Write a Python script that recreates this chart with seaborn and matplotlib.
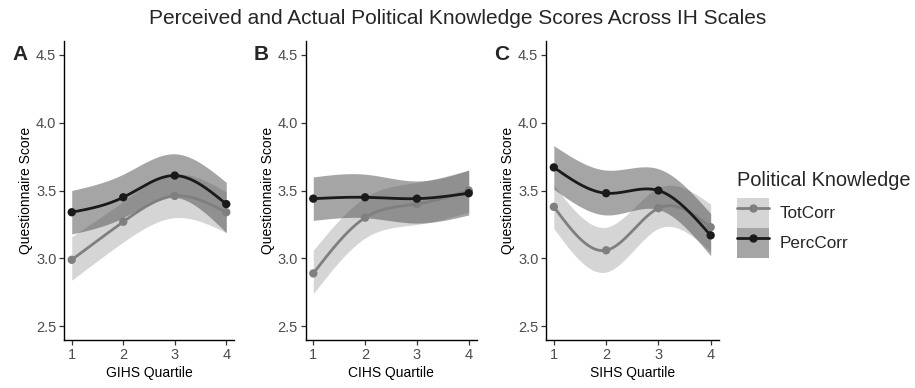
import numpy as np
import pandas as pd
import seaborn as sns
import matplotlib
matplotlib.use("Agg")
import matplotlib.pyplot as plt
from matplotlib.patches import Patch
from matplotlib.lines import Line2D

# ---- data -----------------------------------------------------------------
quartiles = [1, 2, 3, 4]
panel_letters = ["A", "B", "C"]
scale_labels = ["GIHS Quartile", "CIHS Quartile", "SIHS Quartile"]
series_names = ["TotCorr", "PercCorr"]

# mean scores per quartile (TotCorr / PercCorr) for each scale
tot_mean = {
    "GIHS": [2.99, 3.27, 3.46, 3.34],
    "CIHS": [2.89, 3.30, 3.40, 3.50],
    "SIHS": [3.38, 3.06, 3.37, 3.23],
}
perc_mean = {
    "GIHS": [3.34, 3.45, 3.61, 3.40],
    "CIHS": [3.44, 3.45, 3.44, 3.48],
    "SIHS": [3.67, 3.48, 3.50, 3.17],
}
# confidence band limits
tot_lo = {
    "GIHS": [2.84, 3.12, 3.30, 3.19],
    "CIHS": [2.74, 3.15, 3.25, 3.34],
    "SIHS": [3.22, 2.90, 3.22, 3.05],
}
tot_hi = {
    "GIHS": [3.16, 3.42, 3.62, 3.49],
    "CIHS": [3.06, 3.45, 3.56, 3.65],
    "SIHS": [3.54, 3.23, 3.52, 3.40],
}
perc_lo = {
    "GIHS": [3.18, 3.30, 3.45, 3.19],
    "CIHS": [3.28, 3.30, 3.26, 3.32],
    "SIHS": [3.51, 3.32, 3.36, 3.02],
}
perc_hi = {
    "GIHS": [3.50, 3.62, 3.77, 3.56],
    "CIHS": [3.60, 3.62, 3.57, 3.65],
    "SIHS": [3.83, 3.65, 3.66, 3.33],
}
scales = ["GIHS", "CIHS", "SIHS"]


def natural_spline(x, y, n=200):
    """Natural cubic spline through (x, y), evaluated on a dense grid."""
    x = np.asarray(x, float)
    y = np.asarray(y, float)
    k = len(x)
    h = np.diff(x)
    A = np.zeros((k, k))
    b = np.zeros(k)
    A[0, 0] = A[-1, -1] = 1.0
    for i in range(1, k - 1):
        A[i, i - 1] = h[i - 1]
        A[i, i] = 2 * (h[i - 1] + h[i])
        A[i, i + 1] = h[i]
        b[i] = 3 * ((y[i + 1] - y[i]) / h[i] - (y[i] - y[i - 1]) / h[i - 1])
    c = np.linalg.solve(A, b)
    xs = np.linspace(x[0], x[-1], n)
    ys = np.empty_like(xs)
    for j, xv in enumerate(xs):
        i = min(np.searchsorted(x, xv, side="right") - 1, k - 2)
        dx = xv - x[i]
        bi = (y[i + 1] - y[i]) / h[i] - h[i] * (2 * c[i] + c[i + 1]) / 3
        di = (c[i + 1] - c[i]) / (3 * h[i])
        ys[j] = y[i] + bi * dx + c[i] * dx ** 2 + di * dx ** 3
    return xs, ys


# ---- style ----------------------------------------------------------------
sns.set_theme(style="ticks")
plt.rcParams["font.family"] = ["Liberation Sans", "DejaVu Sans"]

line_col = {"TotCorr": "#7f7f7f", "PercCorr": "#1a1a1a"}
band_col = {"TotCorr": "#adadad", "PercCorr": "#4d4d4d"}

W, H = 915, 388
fig = plt.figure(figsize=(W / 100, H / 100), dpi=100)

panel_px = [(64, 234), (305.5, 476.5), (546, 718.5)]
top_px, bot_px = 41, 340

for idx, sc in enumerate(scales):
    l, r = panel_px[idx]
    ax = fig.add_axes([l / W, (H - bot_px) / H, (r - l) / W, (bot_px - top_px) / H])

    for name, mean, lo, hi in [
        ("TotCorr", tot_mean[sc], tot_lo[sc], tot_hi[sc]),
        ("PercCorr", perc_mean[sc], perc_lo[sc], perc_hi[sc]),
    ]:
        xs, lo_s = natural_spline(quartiles, lo)
        _, hi_s = natural_spline(quartiles, hi)
        ax.fill_between(xs, lo_s, hi_s, color=band_col[name], alpha=0.5, lw=0)

    for name, mean in [("TotCorr", tot_mean[sc]), ("PercCorr", perc_mean[sc])]:
        xs, ms = natural_spline(quartiles, mean)
        dense = pd.DataFrame({"q": xs, "score": ms})
        pts = pd.DataFrame({"q": quartiles, "score": mean})
        sns.lineplot(data=dense, x="q", y="score", ax=ax, color=line_col[name],
                     lw=2.0, estimator=None, sort=False)
        sns.scatterplot(data=pts, x="q", y="score", ax=ax, color=line_col[name],
                        s=36, edgecolor="none", zorder=5)

    ax.set_xlim(0.85, 4.15)
    ax.set_ylim(2.4, 4.6)
    ax.set_xticks(quartiles)
    ax.set_xticklabels([str(q) for q in quartiles])
    ax.set_yticks([2.5, 3.0, 3.5, 4.0, 4.5])
    ax.set_yticklabels(["2.5", "3.0", "3.5", "4.0", "4.5"])
    ax.tick_params(axis="both", labelsize=10.5, colors="#333333", length=3.5,
                   width=0.9, pad=2, labelcolor="#4d4d4d")
    ax.set_xlabel(scale_labels[idx], fontsize=10, color="black", labelpad=3)
    ax.set_ylabel("Questionnaire Score", fontsize=10, color="black", labelpad=2)
    for s in ["top", "right"]:
        ax.spines[s].set_visible(False)
    for s in ["left", "bottom"]:
        ax.spines[s].set_color("black")
        ax.spines[s].set_linewidth(1.0)

    fig.text((l - 52) / W, 1 - 60 / H, panel_letters[idx], fontsize=15,
             fontweight="bold", ha="left", va="baseline")

fig.suptitle("Perceived and Actual Political Knowledge Scores Across IH Scales",
             x=0.5, y=1 - 24 / H, fontsize=15, va="baseline")

handles = []
for name in series_names:
    handles.append((
        Patch(facecolor=band_col[name], alpha=0.5, edgecolor="none"),
        Line2D([], [], color=line_col[name], lw=2.0, marker="o", markersize=5),
    ))
leg = fig.legend(handles, series_names, loc="upper left",
                 bbox_to_anchor=(737 / W, 1 - 171 / H), frameon=False,
                 title="Political Knowledge", title_fontsize=14.4, fontsize=12.3,
                 handlelength=1.9, handleheight=2.3, labelspacing=0.0,
                 handletextpad=0.6, borderaxespad=0, borderpad=0)
leg._legend_box.align = "left"
leg._legend_box.sep = 6

fig.savefig("out.png", dpi=100)
